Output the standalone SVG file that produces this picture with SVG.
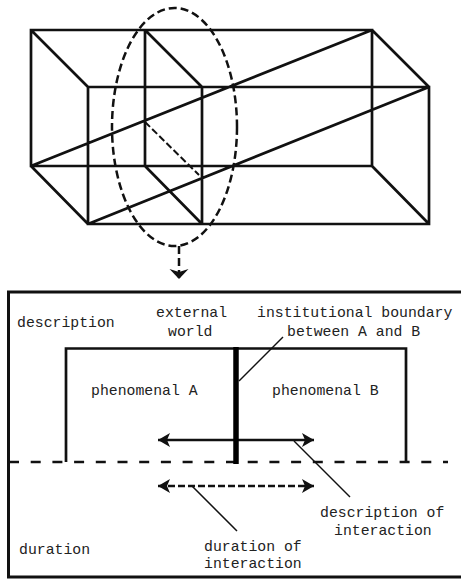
<svg xmlns="http://www.w3.org/2000/svg" width="461" height="579" viewBox="0 0 461 579">
<style>
.l{fill:none;stroke:#111;stroke-width:2.700}
.d{fill:none;stroke:#111;stroke-width:2.500;stroke-dasharray:8 4}
.t{fill:none;stroke:#111;stroke-width:1.500}
text{font-family:"Liberation Mono",monospace;font-size:14.800px;fill:#222}
</style>
<defs>
<marker id="a" markerUnits="userSpaceOnUse" markerWidth="14" markerHeight="14" refX="12" refY="7" orient="auto-start-reverse" viewBox="0 0 14 14"><path d="M0 0L12 7L0 14L3 7Z" fill="#111"/></marker>
<marker id="b" markerUnits="userSpaceOnUse" markerWidth="20" markerHeight="20" refX="11" refY="10" orient="auto" viewBox="0 0 20 20"><path d="M1 0.500L11 10L1 19.500L4 10Z" fill="#111"/></marker>
</defs>
<rect width="461" height="579" fill="#fff"/>
<g id="box">
<path class="l" d="M31 30H372V166H31ZM88 87H429V224H88ZM145 30V166M202 87V224M31 30L88 87M145 30L202 87M372 30L429 87M31 166L88 224M145 166L202 224M372 166L429 224M31 166L372 30M88 224L429 87"/>
<path class="d" d="M145 122L199 175" style="stroke-width:2;stroke-dasharray:7 3"/>
<ellipse class="d" cx="174.500" cy="127" rx="62.500" ry="119"/>
</g>
<g id="connectors">
<path class="d" d="M179 246V279" stroke-dasharray="6 3" marker-end="url(#b)"/>
<path class="t" d="M239 381L283 337"/>
<path class="t" d="M294 441L350 497"/>
<path class="t" d="M192 486L237 531"/>
<path style="fill:none;stroke:#111;stroke-width:2.700" d="M158 440H314" marker-start="url(#a)" marker-end="url(#a)"/>
<path class="d" d="M158 486H314" style="stroke-dasharray:7 3" marker-start="url(#a)" marker-end="url(#a)"/>
</g>
<g id="frame">
<path d="M470 292H8.500V577H470" fill="none" stroke="#111" stroke-width="3"/>
<path class="d" d="M9 462H448" style="stroke-dasharray:10 11.700"/>
<path class="l" d="M66 462V348.500H406V462"/>
<path d="M236 347V464" fill="none" stroke="#000" stroke-width="5.500"/>
</g>
<g id="labels">
<text x="17" y="327">description</text>
<text x="156" y="317">external</text>
<text x="168" y="336">world</text>
<text x="257" y="317">institutional boundary</text>
<text x="287" y="336">between A and B</text>
<text x="91" y="395">phenomenal A</text>
<text x="272" y="395">phenomenal B</text>
<text x="320" y="517">description of</text>
<text x="334" y="535">interaction</text>
<text x="204" y="551">duration of</text>
<text x="204" y="568">interaction</text>
<text x="19" y="554">duration</text>
</g>
</svg>
